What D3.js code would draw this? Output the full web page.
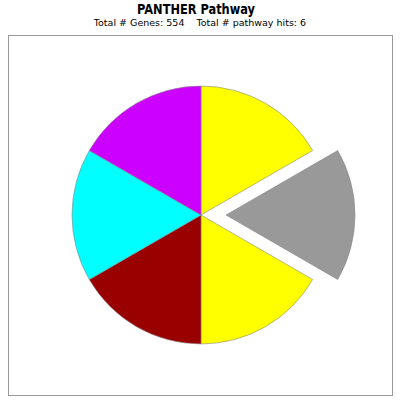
<!DOCTYPE html>
<html><head><meta charset="utf-8">
<script src="https://cdn.jsdelivr.net/npm/d3@7"></script>
<style>body{margin:0;background:#fff}svg{display:block}</style>
</head><body>
<script>
const categories = ["Pathway A","Pathway B","Pathway C","Pathway D","Pathway E","Pathway F"];
const values = [1,1,1,1,1,1];
const colors = ["#FFFF00","#999999","#FFFF00","#990000","#00FFFF","#CC00FF"];
const exploded = [false,true,false,false,false,false];
const title = "PANTHER Pathway";
const subtitle = "Total # Genes: 554    Total # pathway hits: 6";

const W=400,H=400;
const svg=d3.select("body").append("svg").attr("width",W).attr("height",H);
svg.append("rect").attr("width",W).attr("height",H).attr("fill","#fff");
svg.append("text").attr("x",196).attr("y",14).attr("text-anchor","middle")
  .attr("font-family","DejaVu Sans").attr("font-weight","bold").attr("font-size",13.5)
  .attr("textLength",118).attr("lengthAdjust","spacingAndGlyphs").text(title);
svg.append("text").attr("x",200).attr("y",26).attr("text-anchor","middle")
  .attr("font-family","DejaVu Sans").attr("font-size",9.5).attr("xml:space","preserve")
  .style("white-space","pre").text(subtitle);
svg.append("rect").attr("x",8.5).attr("y",35.5).attr("width",384).attr("height",360)
  .attr("fill","#fff").attr("stroke","#999").attr("stroke-width",1);

const cx=201,cy=215,r=129,off=25;
const pie=d3.pie().sort(null).value(d=>d)(values);
const arc=d3.arc().innerRadius(0).outerRadius(r);
const g=svg.append("g").attr("transform",`translate(${cx},${cy})`);
g.selectAll("path").data(pie).join("path")
  .attr("d",arc)
  .attr("fill",(d,i)=>colors[i])
  .attr("stroke","#888").attr("stroke-width",0.6)
  .attr("transform",(d,i)=>{
    if(!exploded[i]) return null;
    const a=(d.startAngle+d.endAngle)/2;
    return `translate(${off*Math.sin(a)},${-off*Math.cos(a)})`;
  });
</script>
</body></html>
